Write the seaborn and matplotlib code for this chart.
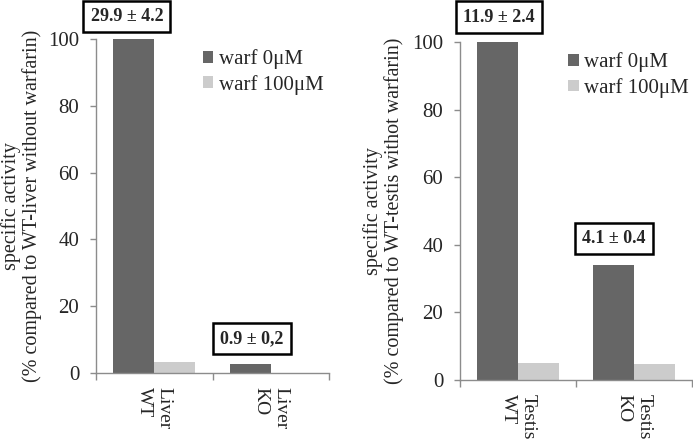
import pandas as pd
import matplotlib
matplotlib.use("Agg")
import matplotlib.pyplot as plt
import seaborn as sns

# data
treatments = ["warf 0\u03bcM", "warf 100\u03bcM"]
liver_groups = ["Liver\nWT", "Liver\nKO"]
liver_warf0 = [100, 2.8]
liver_warf100 = [3.3, 0]
liver_notes = ["29.9 \u00b1 4.2", "0.9 \u00b1 0,2"]
testis_groups = ["Testis\nWT", "Testis\nKO"]
testis_warf0 = [100, 34]
testis_warf100 = [5.1, 4.7]
testis_notes = ["11.9 \u00b1 2.4", "4.1 \u00b1 0.4"]

liver_ylabel = "specific activity\n(% compared to WT-liver without warfarin)"
testis_ylabel = "specific activity\n(% compared to WT-testis withot warfarin)"

sns.set_theme(style="white")
plt.rcParams["font.family"] = ["Liberation Serif", "DejaVu Serif"]

dark = "#666666"
light = "#cccccc"
axis_grey = "#8c8c8c"


def make_df(groups, v0, v100):
    rows = []
    for g, a, b in zip(groups, v0, v100):
        rows.append({"group": g, "treatment": treatments[0], "value": a})
        rows.append({"group": g, "treatment": treatments[1], "value": b})
    return pd.DataFrame(rows)


fig = plt.figure(figsize=(6.93, 4.40), dpi=100)
ax1 = fig.add_axes([96 / 693, 1 - 373 / 440, 233 / 693, 334 / 440])
ax2 = fig.add_axes([460 / 693, 1 - 380 / 440, 232 / 693, 338 / 440])

panels = [
    (ax1, make_df(liver_groups, liver_warf0, liver_warf100), liver_notes, liver_ylabel,
     -0.232, 0.459, [(-5, 16), (1, 18)]),
    (ax2, make_df(testis_groups, testis_warf0, testis_warf100), testis_notes, testis_ylabel,
     -0.241, 0.466, [(1, 18), (0, 19)]),
]

for ax, df, notes, ylabel, lab_x, leg_x, offsets in panels:
    sns.barplot(data=df, x="group", y="value", hue="treatment",
                palette=[dark, light], width=0.7, saturation=1,
                linewidth=0, ax=ax)
    ax.set_ylim(0, 100)
    ax.set_xlim(-0.5, 1.5)
    ax.set_yticks([0, 20, 40, 60, 80, 100])
    ax.set_xlabel("")
    ax.set_ylabel(ylabel, fontsize=14.5, linespacing=1.1)
    ax.yaxis.set_label_coords(lab_x, 0.5)

    sns.despine(ax=ax)
    for side in ["left", "bottom"]:
        ax.spines[side].set_color(axis_grey)
        ax.spines[side].set_linewidth(1.0)

    ax.tick_params(axis="y", length=4, width=1, color=axis_grey,
                   labelsize=15, pad=8, left=True)
    ax.set_xticks([-0.5, 0.5, 1.5], minor=True)
    ax.tick_params(axis="x", which="minor", length=5, width=1,
                   color=axis_grey, bottom=True)
    ax.tick_params(axis="x", which="major", length=0, labelsize=14, pad=10)
    for lab in ax.get_xticklabels():
        lab.set_rotation(270)
        lab.set_multialignment("left")

    ax.legend(loc="upper left", bbox_to_anchor=(leg_x, 0.969),
              frameon=False, fontsize=15, handlelength=0.5,
              handleheight=0.5, handletextpad=0.25, labelspacing=0.27,
              borderpad=0, borderaxespad=0)

    for bar, note, off in zip(ax.containers[0], notes, offsets):
        ax.annotate(note,
                    xy=(bar.get_x() + bar.get_width() / 2, bar.get_height()),
                    xytext=off, textcoords="offset points",
                    ha="center", va="center", fontsize=13, fontweight="bold",
                    annotation_clip=False,
                    bbox=dict(boxstyle="square,pad=0.4", fc="white",
                              ec="black", lw=1.8))

fig.savefig("out.png", dpi=100)
